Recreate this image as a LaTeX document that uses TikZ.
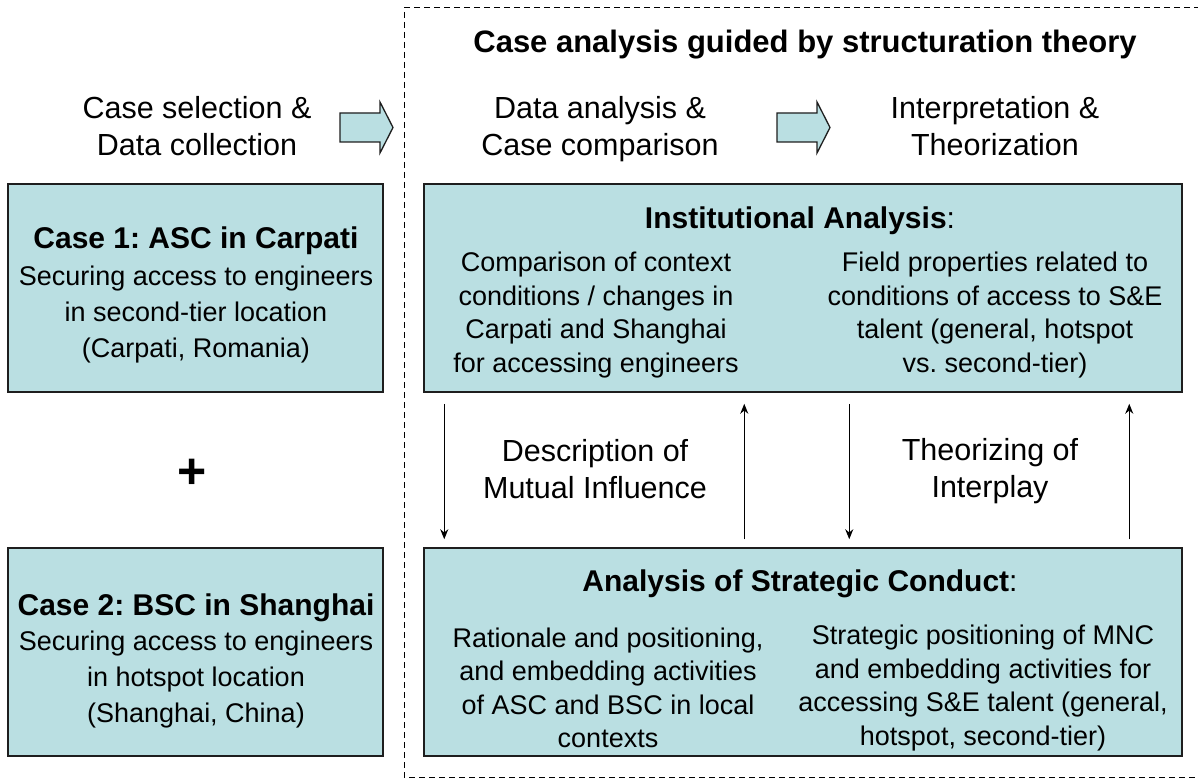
\documentclass[tikz,border=0pt]{standalone}
\usepackage{fontspec}
\setmainfont{Liberation Sans}
\usetikzlibrary{arrows.meta,calc}
\definecolor{boxfill}{RGB}{186,223,226}
\definecolor{boxline}{RGB}{30,30,30}
\tikzset{
  casebox/.style={draw=boxline, line width=1.5pt, fill=boxfill, inner sep=0pt},
  bodytext/.style={align=center, inner sep=0pt, font=\fontsize{27}{36}\selectfont},
  bodytextb/.style={align=center, inner sep=0pt, font=\fontsize{27}{33.5}\selectfont},
  headtext/.style={inner sep=0pt, font=\fontsize{30}{36}\selectfont},
  steplabel/.style={align=center, inner sep=0pt, font=\fontsize{30.5}{37}\selectfont},
  blockarrow/.style={draw=boxline, line width=1.3pt, fill=boxfill},
  conn/.style={line width=1.4pt, -{Stealth[length=10pt,width=8pt]}},
  frame/.style={line width=1pt, dash pattern=on 6pt off 4pt}
}
\begin{document}
\frenchspacing
\begin{tikzpicture}[x=1pt,y=-1pt]
\useasboundingbox (0,0) rectangle (1198,778);
% dashed frame
\draw[frame] (1210,8) -- (404,8) -- (404,777) -- (1210,777);
% title
\node[inner sep=0pt, font=\bfseries\fontsize{31}{36}\selectfont] (title) at (805,45) {Case analysis guided by structuration theory};
% step labels
\node[steplabel] (s1) at (197,126) {Case selection \&\\Data collection};
\node[steplabel] (s2) at (600,129) {Data analysis \&\\Case comparison};
\node[steplabel] (s3) at (995,126) {Interpretation \&\\Theorization};
% block arrows
\coordinate (a1) at (340,127.5);
\coordinate (a2) at (777,127.5);
\foreach \c in {a1,a2}{
  \draw[blockarrow] ($(\c)+(0,-14.5)$) -- ++(40,0) -- ++(0,-11) -- ++(13,25.5) -- ++(-13,25.5) -- ++(0,-11) -- ++(-40,0) -- cycle;
}
% left case boxes
\node[casebox, minimum width=375pt, minimum height=208pt] (c1) at (195.5,288) {};
\node[casebox, minimum width=375pt, minimum height=208pt] (c2) at (195.5,652) {};
\node[headtext, font=\bfseries\fontsize{30}{36}\selectfont] (c1h) at (196,241) {Case 1: ASC in Carpati};
\node[bodytext] (c1t) at (196,315) {Securing access to engineers\\in second-tier location\\(Carpati, Romania)};
\node[headtext, font=\bfseries\fontsize{30}{36}\selectfont] (c2h) at (196,608) {Case 2: BSC in Shanghai};
\node[bodytext] (c2t) at (196,680) {Securing access to engineers\\in hotspot location\\(Shanghai, China)};
\node[inner sep=0pt, font=\bfseries\fontsize{50}{50}\selectfont] (plus) at (192,474) {+};
% right boxes
\node[casebox, minimum width=758pt, minimum height=208pt] (inst) at (803,288) {};
\node[casebox, minimum width=758pt, minimum height=208pt] (strat) at (803,652) {};
\node[headtext] (insth) at (800,221) {\textbf{Institutional Analysis}:};
\node[bodytextb] (instl) at (596,315) {Comparison of context\\conditions / changes in\\Carpati and Shanghai\\for accessing engineers};
\node[bodytextb] (instr) at (995,315) {Field properties related to\\conditions of access to S\&E\\talent (general, hotspot\\vs. second-tier)};
\node[headtext] (strath) at (800,584) {\textbf{Analysis of Strategic Conduct}:};
\node[bodytextb] (stratl) at (608,688) {Rationale and positioning,\\and embedding activities\\of ASC and BSC in local\\contexts};
\node[bodytextb] (stratr) at (983,688) {Strategic positioning of MNC\\and embedding activities for\\accessing S\&E talent (general,\\hotspot, second-tier)};
% middle labels
\node[steplabel] (m1) at (595,469) {Description of\\Mutual Influence};
\node[steplabel] (m2) at (990,471) {Theorizing of\\Interplay};
% thin arrows
\draw[conn] ($(inst.south west)+(21,11)$) -- ($(strat.north west)+(21,-8)$);
\draw[conn] ($(strat.north west)+(321,-8)$) -- ($(inst.south west)+(321,11)$);
\draw[conn] ($(inst.south west)+(426,11)$) -- ($(strat.north west)+(426,-8)$);
\draw[conn] ($(strat.north west)+(706,-8)$) -- ($(inst.south west)+(706,11)$);
\end{tikzpicture}
\end{document}
